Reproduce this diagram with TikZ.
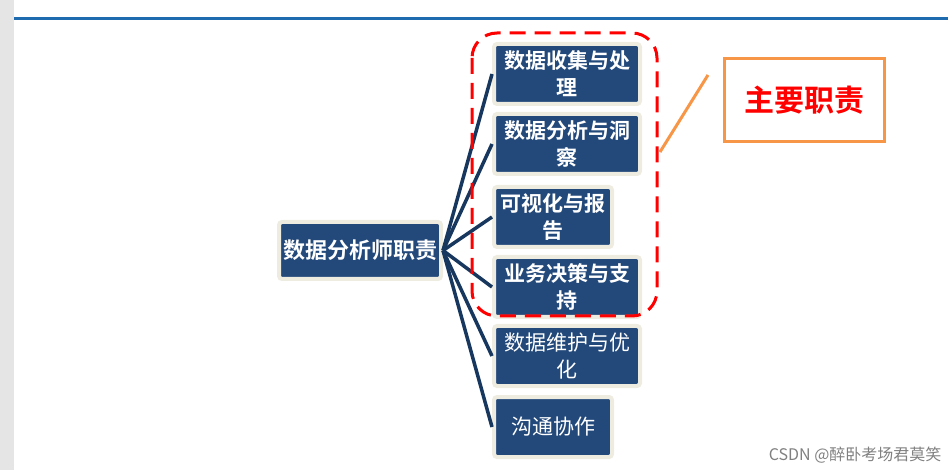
\documentclass[tikz,border=0pt]{standalone}
\usepackage{fontspec}
\setmainfont{Noto Sans CJK SC}[BoldFont=* Bold]
\begin{document}
\begin{tikzpicture}[x=1pt,y=-1pt,
  box/.style={draw=beige,line width=4pt,fill=navbox,rounded corners=3pt,text=white,inner sep=0pt,anchor=north west},
  link/.style={draw=linkc,line width=3.5pt}]
\definecolor{beige}{HTML}{EEECE1}
\definecolor{navbox}{HTML}{23497B}
\definecolor{linkc}{HTML}{17375E}
\definecolor{orng}{HTML}{F79646}
\useasboundingbox (0,0) rectangle (948,470);
\fill[gray!20] (0,0) rectangle (14,470);
\draw[line width=3pt,draw={rgb,255:red,31;green,107;blue,176}] (14,19) -- (948,19);
\node[box,minimum width=162pt,minimum height=57pt,font=\fontsize{22}{24}\selectfont\bfseries] (root) at (277,220) {数据分析师职责};
\newcommand\child[5]{\node[box,minimum width=#3,minimum height=60pt,align=center,font=\fontsize{21}{27}\selectfont#5] (#1) at (492,#2) {#4};}
\child{c1}{42}{146pt}{数据收集与处\\理}{\bfseries}
\child{c2}{112}{146pt}{数据分析与洞\\察}{\bfseries}
\child{c3}{185}{118pt}{可视化与报\\告}{\bfseries}
\child{c4}{255}{146pt}{业务决策与支\\持}{\bfseries}
\child{c5}{324}{146pt}{数据维护与优\\化}{}
\child{c6}{395}{118pt}{沟通协作}{}
\foreach \c in {c1,c2,c3,c4,c5,c6} \draw[link] (root.east) -- (\c.west);
\draw[red,line width=3pt,dash pattern=on 16pt off 9pt,rounded corners=25pt] (472,33) rectangle (657,316);
\node[draw=orng,line width=3pt,minimum width=160pt,minimum height=83pt,text=red,font=\fontsize{30}{34}\selectfont\bfseries,anchor=north west] (main) at (723,57) {主要职责};
\coordinate (ma) at (708,75);
\coordinate (mb) at (660,152);
\draw[orng,line width=3pt] (ma) -- (mb);
\node[text=gray,font=\fontsize{16}{18}\selectfont,anchor=east] (wm) at (945,455) {CSDN @醉卧考场君莫笑};
\end{tikzpicture}
\end{document}
